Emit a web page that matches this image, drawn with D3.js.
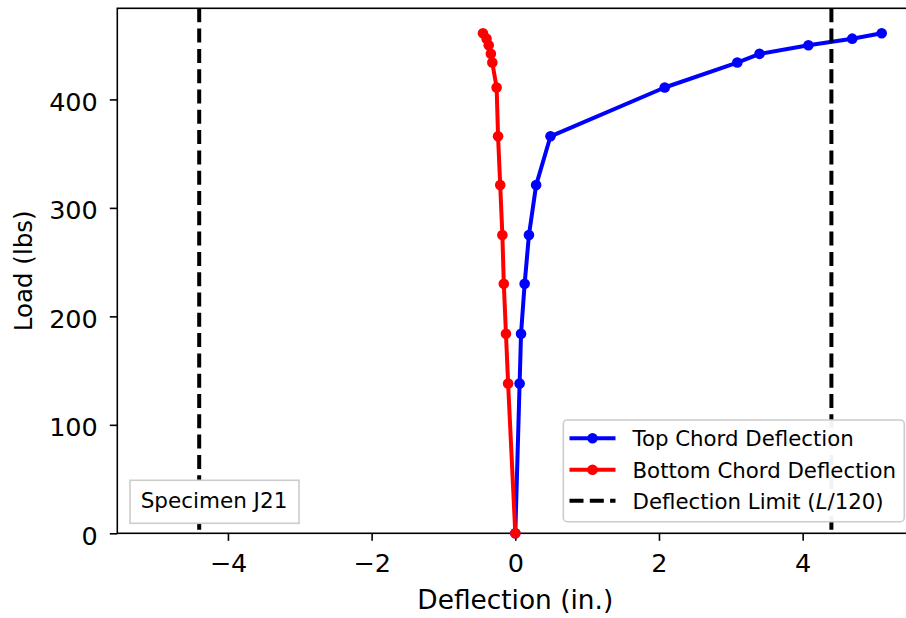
<!DOCTYPE html>
<html>
<head>
<meta charset="utf-8">
<script src="https://cdn.jsdelivr.net/npm/d3@7"></script>
<style>
  html, body { margin: 0; padding: 0; background: #fff; }
  svg { display: block; font-family: "DejaVu Sans", sans-serif; }
</style>
</head>
<body>
<svg id="chart" width="906" height="618"></svg>
<script>
// Load steps applied to specimen J21 (lbs)
const loads = [0, 138, 184, 230, 275, 321, 366, 411, 434, 442, 450, 456, 461];
// Top chord deflection at each load step (in.)
const topChord = [0, 0.06, 0.08, 0.13, 0.19, 0.29, 0.49, 2.08, 3.09, 3.40, 4.08, 4.69, 5.10];
// Bottom chord deflection at each load step (in.)
const bottomChord = [0, -0.10, -0.13, -0.16, -0.18, -0.21, -0.24, -0.26, -0.32, -0.34, -0.37, -0.40, -0.45];
// Allowable deflection limit L/120 (in.)
const deflectionLimit = 4.4;
const xTicks = [-4, -2, 0, 2, 4];
const yTicks = [0, 100, 200, 300, 400];
const seriesNames = ["Top Chord Deflection", "Bottom Chord Deflection"];
const specimenLabel = "Specimen J21";

const svg = d3.select("#chart");
const plotLeft = 117.3, plotRight = 913.3, plotTop = 8.3, plotBottom = 533.3;

const x = d3.scaleLinear().domain([-5.54, 5.54]).range([plotLeft, plotRight]);
const y = d3.scaleLinear().domain([0, 484]).range([plotBottom, plotTop]);

const fmt = d => (d < 0 ? "\u2212" + Math.abs(d) : String(d));

// Axes
const xAxis = svg.append("g")
  .attr("transform", `translate(0,${plotBottom})`)
  .call(d3.axisBottom(x).tickValues(xTicks).tickFormat(fmt).tickSize(7.5).tickPadding(14));
const yAxis = svg.append("g")
  .attr("transform", `translate(${plotLeft},0)`)
  .call(d3.axisLeft(y).tickValues(yTicks).tickFormat(fmt).tickSize(7.5).tickPadding(12));
[xAxis, yAxis].forEach(g => {
  g.select(".domain").remove();
  g.selectAll(".tick line").attr("stroke", "#000").attr("stroke-width", 1.6);
  g.selectAll(".tick text")
    .attr("fill", "#000")
    .style("font-family", "DejaVu Sans")
    .style("font-size", "25.5px");
});
yAxis.selectAll(".tick text").attr("dy", "0.42em");
xAxis.selectAll(".tick text").attr("dy", "0.68em");

// Plot frame (top, left, bottom, right spines)
svg.append("rect")
  .attr("x", plotLeft).attr("y", plotTop)
  .attr("width", plotRight - plotLeft).attr("height", plotBottom - plotTop)
  .attr("fill", "none").attr("stroke", "#000").attr("stroke-width", 1.6);

// Data series
const pts = (vals) => vals.map((v, i) => [v, loads[i]]);
const line = d3.line().x(d => x(d[0])).y(d => y(d[1]));
const series = [
  { name: seriesNames[0], color: "#0000ff", data: pts(topChord) },
  { name: seriesNames[1], color: "#ff0000", data: pts(bottomChord) }
];
const plot = svg.append("g");
series.forEach(s => {
  plot.append("path")
    .attr("d", line(s.data))
    .attr("fill", "none")
    .attr("stroke", s.color)
    .attr("stroke-width", 4)
    .attr("stroke-linejoin", "round");
  plot.selectAll(null).data(s.data).enter().append("circle")
    .attr("cx", d => x(d[0])).attr("cy", d => y(d[1]))
    .attr("r", 5.3)
    .attr("fill", s.color);
});

// Deflection limit lines at ±L/120
[-deflectionLimit, deflectionLimit].forEach(v => {
  plot.append("line")
    .attr("x1", x(v)).attr("x2", x(v))
    .attr("y1", plotTop).attr("y2", plotBottom)
    .attr("stroke", "#000").attr("stroke-width", 4)
    .attr("stroke-dasharray", "14,6.3");
});

// Axis labels
svg.append("text")
  .attr("x", x(0)).attr("y", 608.5)
  .attr("text-anchor", "middle")
  .attr("fill", "#000")
  .style("font-size", "26.4px")
  .text("Deflection (in.)");
svg.append("text")
  .attr("transform", `translate(32,${(plotTop + plotBottom) / 2}) rotate(-90)`)
  .attr("text-anchor", "middle")
  .attr("fill", "#000")
  .style("font-size", "24.5px")
  .text("Load (lbs)");

// Specimen tag
svg.append("rect")
  .attr("x", 130).attr("y", 480.3).attr("width", 169).attr("height", 43)
  .attr("fill", "#fff").attr("stroke", "#cccccc").attr("stroke-width", 1.6);
svg.append("text")
  .attr("x", 214).attr("y", 508)
  .attr("text-anchor", "middle")
  .attr("fill", "#000")
  .style("font-size", "21.5px")
  .text(specimenLabel);

// Legend
const legend = svg.append("g");
legend.append("rect")
  .attr("x", 563.3).attr("y", 420).attr("width", 341).attr("height", 101.7)
  .attr("rx", 4).attr("ry", 4)
  .attr("fill", "#fff").attr("fill-opacity", 0.95)
  .attr("stroke", "#cccccc").attr("stroke-width", 1.6);
const legendItems = [
  { label: seriesNames[0], color: "#0000ff", dashed: false },
  { label: seriesNames[1], color: "#ff0000", dashed: false },
  { label: null, color: "#000", dashed: true }
];
const rowY = [438.3, 469.8, 500.8];
legendItems.forEach((it, i) => {
  const cy = rowY[i];
  legend.append("line")
    .attr("x1", 569.5).attr("x2", 615.5).attr("y1", cy).attr("y2", cy)
    .attr("stroke", it.color).attr("stroke-width", 4)
    .attr("stroke-dasharray", it.dashed ? "14,6.3" : null);
  if (!it.dashed) {
    legend.append("circle").attr("cx", 592.5).attr("cy", cy).attr("r", 5.3).attr("fill", it.color);
  }
  const t = legend.append("text")
    .attr("x", 632.5).attr("y", cy + 7.8)
    .attr("fill", "#000")
    .style("font-size", "21.3px");
  if (it.label) {
    t.text(it.label);
  } else {
    t.append("tspan").text("Deflection Limit (");
    t.append("tspan").style("font-style", "italic").text("L");
    t.append("tspan").text("/120)");
  }
});
</script>
</body>
</html>
